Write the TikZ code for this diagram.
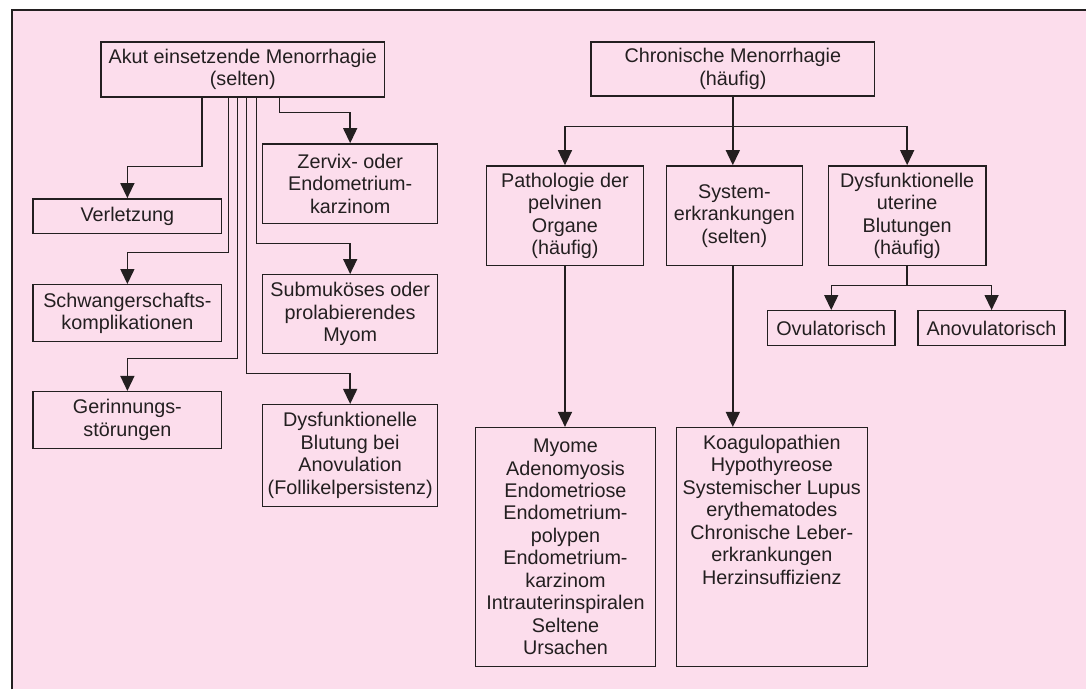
\documentclass[tikz,border=0pt]{standalone}
\usepackage{fontspec}
\setmainfont{Liberation Sans}
\usetikzlibrary{arrows.meta}
\definecolor{bgpink}{RGB}{252,221,236}
\definecolor{ink}{RGB}{35,31,32}
\begin{document}
\begin{tikzpicture}[x=1pt,y=-1pt,
  box/.style={draw=ink, line width=1.4pt, fill=bgpink, text=ink, align=center,
    inner sep=0pt, font=\fontsize{19.8}{22.5}\selectfont},
  conn/.style={draw=ink, line width=1.4pt},
  arr/.style={conn, -{Triangle[width=14pt,length=15pt]}}]
% background and frame
\fill[white] (0,0) rectangle (1087,690);
\fill[bgpink] (12,10) rectangle (1087,690);
\draw[ink, line width=2pt] (12,690) -- (12,10) -- (1087,10);
\useasboundingbox (0,0) rectangle (1087,690);

% left tree
\node[box, minimum width=284pt, minimum height=55pt] (akut) at (243,69.5) {Akut einsetzende Menorrhagie\\(selten)};
\node[box, minimum width=189pt, minimum height=35pt] (verl) at (127.5,216.5) {Verletzung};
\node[box, minimum width=189pt, minimum height=57pt] (schw) at (127.5,313.5) {Schwangerschafts-\\komplikationen};
\node[box, minimum width=189pt, minimum height=57pt] (ger) at (127.5,420.5) {Gerinnungs-\\störungen};
\node[box, minimum width=175pt, minimum height=80pt] (zerv) at (350.5,184) {Zervix- oder\\Endometrium-\\karzinom};
\node[box, minimum width=175pt, minimum height=79pt] (subm) at (350.5,314.5) {Submuköses oder\\prolabierendes\\Myom};
\node[box, minimum width=175pt, minimum height=102pt] (dysa) at (350.5,456) {Dysfunktionelle\\Blutung bei\\Anovulation\\(Follikelpersistenz)};

\draw[arr] ([xshift=-41pt]akut.south) -- ++(0,69) -| (verl.north);
\draw[arr] ([xshift=-14pt]akut.south) -- ++(0,155) -| (schw.north);
\draw[arr] ([xshift=-5pt]akut.south) -- ++(0,261) -| (ger.north);
\draw[arr] ([xshift=4pt]akut.south) -- ++(0,276) -| (dysa.north);
\draw[arr] ([xshift=14pt]akut.south) -- ++(0,146) -| (subm.north);
\draw[arr] ([xshift=37pt]akut.south) -- ++(0,15) -| (zerv.north);

% right tree
\node[box, minimum width=284pt, minimum height=54pt] (chron) at (733.5,69) {Chronische Menorrhagie\\(häufig)};
\node[box, minimum width=157pt, minimum height=100pt] (path) at (565.5,216) {Pathologie der\\pelvinen\\Organe\\(häufig)};
\node[box, minimum width=136pt, minimum height=100pt] (sys) at (735,216) {System-\\erkrankungen\\(selten)};
\node[box, minimum width=158pt, minimum height=100pt] (dub) at (908,216) {Dysfunktionelle\\uterine\\Blutungen\\(häufig)};
\node[box, minimum width=128pt, minimum height=35pt] (ovu) at (832,328.5) {Ovulatorisch};
\node[box, minimum width=147pt, minimum height=35pt] (anov) at (992.5,328.5) {Anovulatorisch};
\node[box, minimum width=180pt, minimum height=239pt] (myom) at (566,547.5) {Myome\\Adenomyosis\\Endometriose\\Endometrium-\\polypen\\Endometrium-\\karzinom\\Intrauterinspiralen\\Seltene\\Ursachen};
\node[box, minimum width=191pt, minimum height=239pt] (koag) at (772.5,547.5) {\parbox[c][224pt][t]{189pt}{\centering Koagulopathien\\Hypothyreose\\Systemischer Lupus\\erythematodes\\Chronische Leber-\\erkrankungen\\Herzinsuffizienz}};

\draw[arr] (chron.south) -- (chron.south |- sys.north);
\draw[arr] (chron.south) -- ++(0,30) -| (path.north);
\draw[arr] ([yshift=-30pt]chron.south) -| (dub.north);
\draw[arr] (path.south) -- (path.south |- myom.north);
\draw[arr] ([xshift=-1.5pt]sys.south) -- ([xshift=-1.5pt]sys.south |- koag.north);
\draw[arr] (dub.south) -- ++(0,19) -| (ovu.north);
\draw[arr] ([yshift=-19pt]dub.south) -| (anov.north);
\end{tikzpicture}
\end{document}
